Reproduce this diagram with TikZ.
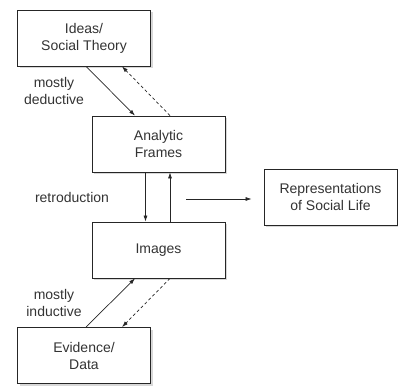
\documentclass[tikz,border=0pt]{standalone}
\usepackage{fontspec}
\setmainfont{Liberation Sans}
\usetikzlibrary{arrows.meta,shadows,positioning}

\begin{document}
\begin{tikzpicture}[x=1pt,y=1pt,
		box/.style={draw=black!85,fill=white,line width=0.8pt,minimum width=133pt,minimum height=56pt,inner sep=0pt,align=center,text=black!80,
			drop shadow={shadow xshift=2pt,shadow yshift=-2pt,fill=black!30}},
		lbl/.style={align=center,text=black!80,inner sep=0pt},
		arr/.style={draw=black!85,line width=0.7pt,-{Latex[length=6pt,width=4pt]}},
		darr/.style={arr,dash pattern=on 3pt off 2.5pt}]
		\useasboundingbox (0,0) rectangle (398,-385);
		\fontsize{14}{17}\selectfont
		
		\node[box] (ideas) at (84,-38) {Ideas/\\Social Theory};
		\node[box] (frames) at (158.5,-144) {Analytic\\Frames};
		\node[box] (images) at (158.5,-250) {Images};
		\node[box] (evidence) at (84,-355.5) {Evidence/\\Data};
		\node[box] (repr) at (330.5,-197) {Representations\\of Social Life};
		
		\node[lbl] (deductive) at (54,-91) {mostly\\deductive};
		\node[lbl] (retro) at (72,-197) {retroduction};
		\node[lbl] (inductive) at (54,-303) {mostly\\inductive};
		
		\draw[arr] ([xshift=2pt]ideas.south) -- ([xshift=-23.5pt]frames.north);
		\draw[darr] ([xshift=11.5pt]frames.north) -- ([xshift=38pt]ideas.south);
		
		\draw[arr] ([xshift=-13pt]frames.south) -- ([xshift=-13pt]images.north);
		\draw[arr] ([xshift=11.5pt]images.north) -- ([xshift=11.5pt]frames.south);
		
		\coordinate (out) at (186,-199);
		\draw[arr] (out) -- ([xshift=-12pt]repr.west |- out);
		
		\draw[arr] ([xshift=2pt]evidence.north) -- ([xshift=-23.5pt]images.south);
		\draw[darr] ([xshift=11.5pt]images.south) -- ([xshift=38pt]evidence.north);
		
	\end{tikzpicture}
\end{document}
